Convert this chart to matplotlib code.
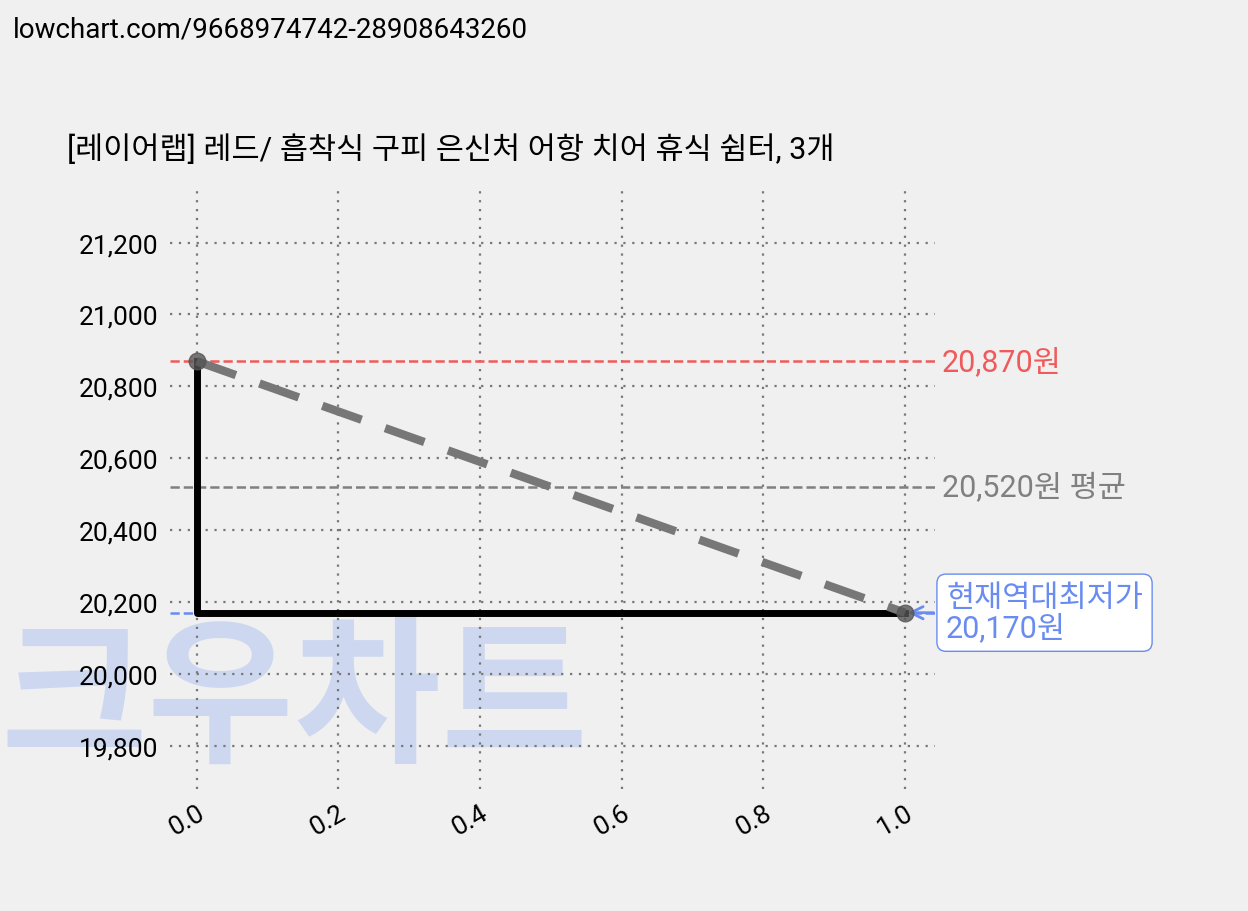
import matplotlib
matplotlib.use("Agg")
import matplotlib.pyplot as plt

plt.rcParams['font.family'] = ['Roboto', 'Noto Sans CJK KR', 'DejaVu Sans']

x_vals = [0.0, 1.0]
prices = [20870, 20170]
max_price = 20870
avg_price = 20520
min_price = 20170
title = "[레이어랩] 레드/ 흡착식 구피 은신처 어항 치어 휴식 쉼터, 3개"
url = "lowchart.com/9668974742-28908643260"

fig = plt.figure(figsize=(12.48, 9.12), dpi=100, facecolor='#f0f0f0')
ax = fig.add_axes([0.136, 0.134, 0.613, 0.658], facecolor='none')

fig.text(0.01, 0.982, url, fontsize=20, va='top', ha='left')
fig.text(0.054, 0.836, title, fontsize=22, va='center', ha='left')

# watermark
fig.text(0.0, 0.225, "크우차트", fontsize=115, color='#c5d3f0', alpha=0.8,
         fontweight='bold', va='center', ha='left', zorder=-1)

ax.set_xlim(-0.038, 1.042)
ax.set_ylim(19680, 21350)
ax.grid(True, linestyle=(0, (1, 3)), color='#777777', linewidth=1.6)
for s in ax.spines.values():
    s.set_visible(False)
ax.tick_params(length=0, labelsize=19, pad=8)
ax.set_yticks([19800, 20000, 20200, 20400, 20600, 20800, 21000, 21200])
ax.set_yticklabels([f"{v:,}" for v in ax.get_yticks()])
ax.set_xticks([0.0, 0.2, 0.4, 0.6, 0.8, 1.0])
ax.set_xticklabels(["0.0", "0.2", "0.4", "0.6", "0.8", "1.0"], rotation=30,
                   ha='right', rotation_mode='anchor')

ax.axhline(max_price, color='#f05a5a', linestyle='--', linewidth=1.8)
ax.axhline(avg_price, color='#808080', linestyle='--', linewidth=1.8)
ax.axhline(min_price, color='#6a8cf0', linestyle='--', linewidth=1.8)

ax.plot([x_vals[0], x_vals[0], x_vals[1]], [prices[0], prices[1], prices[1]],
        color='black', linewidth=5, zorder=3)
ax.plot(x_vals, prices, color='#777777', linestyle=(0, (5, 3)), linewidth=6, zorder=4)
ax.plot(x_vals, prices, 'o', color='#555555', alpha=0.8, markersize=12, zorder=5)

ax.text(1.052, max_price, f"{max_price:,}원", color='#f05a5a', fontsize=22,
        va='center', ha='left', clip_on=False)
ax.text(1.052, avg_price, f"{avg_price:,}원 평균", color='#808080', fontsize=22,
        va='center', ha='left', clip_on=False)
ax.annotate(f"현재역대최저가\n{min_price:,}원", xy=(1.0, min_price),
            xytext=(1.058, min_price), color='#6a8cf0', fontsize=22,
            va='center', ha='left', linespacing=1.0, annotation_clip=False,
            bbox=dict(boxstyle='round,pad=0.3', fc='white', ec='#6a8cf0'),
            arrowprops=dict(arrowstyle='->', color='#6a8cf0', lw=2))

fig.savefig("out.png", dpi=100, facecolor=fig.get_facecolor())
